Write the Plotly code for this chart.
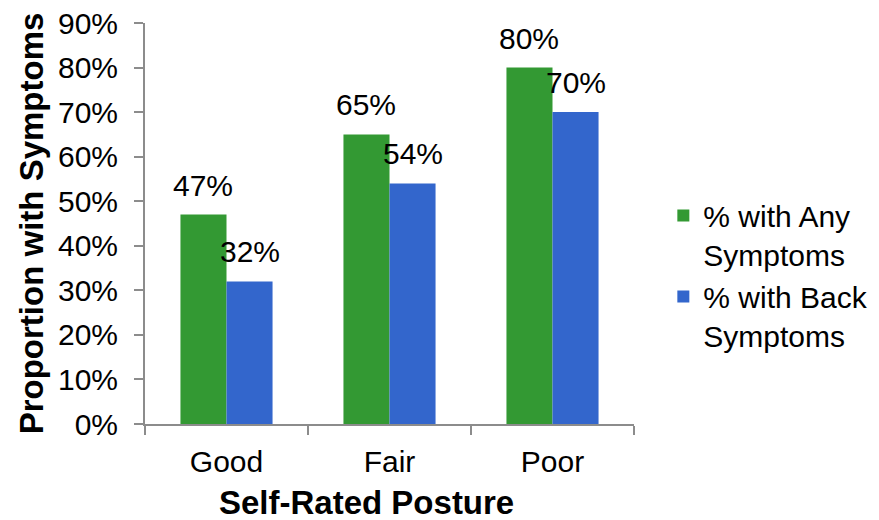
import plotly.graph_objects as go

categories = ["Good", "Fair", "Poor"]
any_symptoms = [47, 65, 80]
back_symptoms = [32, 54, 70]
series_names = ["% with Any<br>Symptoms", "% with Back<br>Symptoms"]
y_ticks = [0, 10, 20, 30, 40, 50, 60, 70, 80, 90]

FONT = "Liberation Sans, Arial, sans-serif"
colors = ["#339933", "#3366CC"]
BARGAP = 0.435

fig = go.Figure()
series = [any_symptoms, back_symptoms]
for name, vals, col in zip(series_names, series, colors):
    fig.add_trace(go.Bar(
        x=categories, y=[v / 100 for v in vals], name=name,
        marker=dict(color=col, line=dict(width=0)),
    ))

# value labels above each bar (grouped offsets follow the bar width)
half = (1 - BARGAP) / 4
for k, vals in enumerate(series):
    off = -half if k == 0 else half
    for i, v in enumerate(vals):
        fig.add_annotation(
            x=i + off, y=v / 100, text=f"{v}%", showarrow=False,
            yanchor="bottom", yshift=11,
            font=dict(size=30, color="black", family=FONT),
        )

# x-axis title, set slightly left of the plot centre
fig.add_annotation(
    x=0.452, y=0, xref="paper", yref="paper", yanchor="top", yshift=-58,
    text="<b>Self-Rated Posture</b>", showarrow=False,
    font=dict(size=33, color="black", family=FONT),
)

fig.update_layout(
    width=879, height=520,
    margin=dict(l=145, r=245, t=23, b=96, autoexpand=False),
    paper_bgcolor="white", plot_bgcolor="white",
    barmode="group", bargap=BARGAP, bargroupgap=0,
    font=dict(family=FONT, color="black"),
    showlegend=True,
    legend=dict(x=1.06, y=0.585, yanchor="top", xanchor="left",
                font=dict(size=30, family=FONT), tracegroupgap=8,
                itemwidth=30, valign="top"),
)
fig.update_xaxes(
    showline=True, linecolor="#8c8c8c", linewidth=2,
    ticks="outside", tickson="boundaries", ticklen=9, tickcolor="#8c8c8c", tickwidth=2,
    tickfont=dict(size=30), showgrid=False, ticklabelstandoff=10,
)
fig.update_yaxes(
    range=[0, 0.9], tickvals=[t / 100 for t in y_ticks],
    ticktext=[f"{t}%" for t in y_ticks],
    showline=True, linecolor="#8c8c8c", linewidth=2,
    ticks="outside", ticklen=9, tickcolor="#8c8c8c", tickwidth=2,
    tickfont=dict(size=30), showgrid=False, zeroline=False, ticklabelstandoff=10,
    title=dict(text="<b>Proportion with Symptoms</b>", font=dict(size=33), standoff=4),
)

fig.write_html("out.html")
